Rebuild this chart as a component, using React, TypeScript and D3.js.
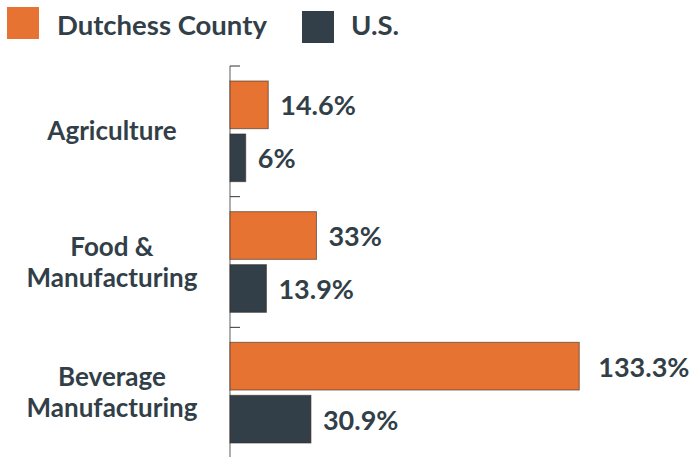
import React from "react";
import * as d3 from "d3";

const categories = ["Agriculture", "Food & Manufacturing", "Beverage Manufacturing"];
const categoryLines = [["Agriculture"], ["Food &", "Manufacturing"], ["Beverage", "Manufacturing"]];
const seriesNames = ["Dutchess County", "U.S."];
const dutchess = [14.6, 33, 133.3];
const us = [6, 13.9, 30.9];
const colors = ["#E67332", "#323F48"];

const W = 691;
const H = 457;
const FONT = "Lato, 'Source Sans Pro', sans-serif";
const TEXT = "#323F48";

export default function App() {
  const x = d3.scaleLinear().domain([0, 100]).range([230, 492]);
  const y = d3.scaleBand().domain(categories).range([66, 458]).paddingInner(0).paddingOuter(0);
  const inner = d3.scaleBand().domain(seriesNames).range([15, y.bandwidth() - 15]).paddingInner(0.1);
  const series = [dutchess, us];

  return (
    <svg width={W} height={H} style={{ position: "absolute", left: 0, top: 0 }}>
      {/* legend */}
      <rect x={7} y={7} width={32} height={32} fill={colors[0]} />
      <text x={57} y={24} dominantBaseline="central" fontFamily={FONT} fontWeight={700} fontSize={27.5} fill={TEXT}>
        {seriesNames[0]}
      </text>
      <rect x={302} y={11} width={32} height={32} fill={colors[1]} />
      <text x={351} y={24} dominantBaseline="central" fontFamily={FONT} fontWeight={700} fontSize={27.5} fill={TEXT}>
        {seriesNames[1]}
      </text>

      {/* axis */}
      <line x1={230} x2={230} y1={66} y2={H} stroke="#777" strokeWidth={1.2} />
      {[...categories.map((c) => y(c) as number), 458].map((t, i) => (
        <line key={i} x1={230} x2={240} y1={t} y2={t} stroke="#333" strokeWidth={1} />
      ))}

      {/* category labels */}
      {categories.map((c, i) => {
        const cy = (y(c) as number) + y.bandwidth() / 2;
        const lines = categoryLines[i];
        const lh = 31;
        return (
          <text key={c} textAnchor="middle" fontFamily={FONT} fontWeight={700} fontSize={26} fill={TEXT}>
            {lines.map((l, j) => (
              <tspan key={j} x={112} y={cy - 1 + (j - (lines.length - 1) / 2) * lh} dominantBaseline="central">
                {l}
              </tspan>
            ))}
          </text>
        );
      })}

      {/* bars */}
      {categories.map((c, i) =>
        seriesNames.map((s, k) => {
          const v = series[k][i];
          const by = (y(c) as number) + (inner(s) as number);
          const bh = inner.bandwidth();
          return (
            <g key={c + s}>
              <rect
                x={x(0)}
                y={by}
                width={x(v) - x(0)}
                height={bh}
                fill={colors[k]}
                stroke="#3a2a20"
                strokeOpacity={0.6}
                strokeWidth={1}
              />
              <text
                x={x(v) + (v > 100 ? 19 : 12)}
                y={by + bh / 2}
                dominantBaseline="central"
                fontFamily={FONT}
                fontWeight={700}
                fontSize={27}
                fill={TEXT}
              >
                {`${v}%`}
              </text>
            </g>
          );
        })
      )}
    </svg>
  );
}
